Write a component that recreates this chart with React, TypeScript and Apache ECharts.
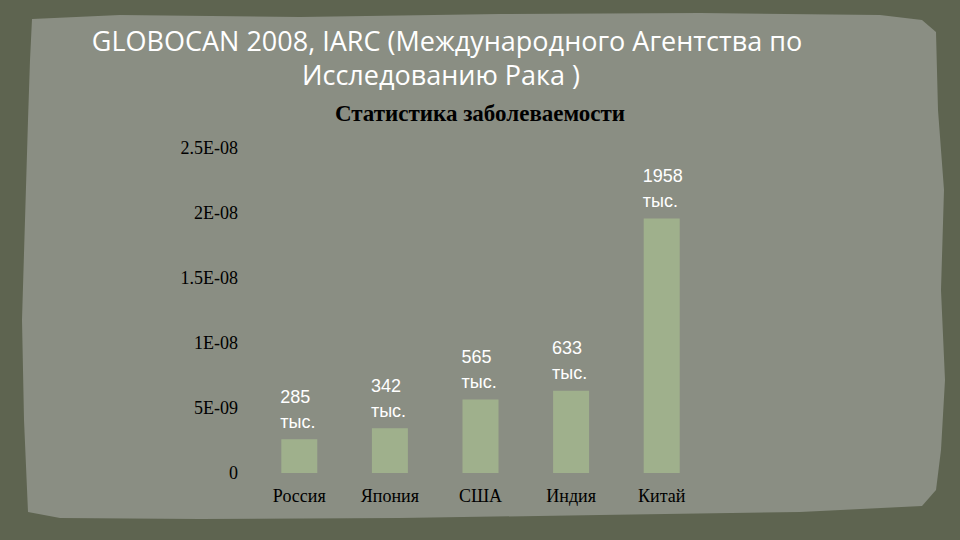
import React, { useEffect, useRef } from "react";
import * as echarts from "echarts";

const titleLines = ["GLOBOCAN 2008, IARC (Международного Агентства по", "Исследованию Рака )"];
const subtitle = "Статистика заболеваемости";
const categories = ["Россия", "Япония", "США", "Индия", "Китай"];
const values = [2.6e-9, 3.45e-9, 5.65e-9, 6.33e-9, 1.958e-8];
const dataLabels = ["285\nтыс.", "342\nтыс.", "565\nтыс.", "633\nтыс.", "1958\nтыс."];
const yTickLabels = ["0", "5E-09", "1E-08", "1.5E-08", "2E-08", "2.5E-08"];

const paperPoints: number[][] = [
  [32, 19], [120, 15], [300, 17], [500, 14], [700, 13], [880, 15], [922, 20], [936, 32],
  [938, 110], [944, 190], [941, 290], [945, 380], [941, 450], [936, 490], [922, 506],
  [800, 512], [600, 515], [400, 518], [200, 519], [60, 518], [28, 512],
  [24, 420], [22, 320], [25, 220], [28, 120], [30, 60],
];

export default function App() {
  const ref = useRef<HTMLDivElement>(null);
  useEffect(() => {
    if (!ref.current) return;
    const chart = echarts.init(ref.current, null, { renderer: "svg" });
    chart.setOption({
      animation: false,
      backgroundColor: "#5e6450",
      graphic: [
        {
          type: "polygon",
          z: -10,
          shape: { points: paperPoints },
          style: { fill: "#8a8e83" },
          silent: true,
        },
        {
          type: "text",
          x: 447,
          y: 40,
          style: {
            text: titleLines[0],
            fill: "#ffffff",
            font: "27px 'Open Sans'",
            align: "center",
            verticalAlign: "middle",
          },
        },
        {
          type: "text",
          x: 441,
          y: 74,
          style: {
            text: titleLines[1],
            fill: "#ffffff",
            font: "27px 'Open Sans'",
            align: "center",
            verticalAlign: "middle",
          },
        },
        {
          type: "text",
          x: 480,
          y: 113,
          style: {
            text: subtitle,
            fill: "#000000",
            font: "bold 23px 'Liberation Serif'",
            align: "center",
            verticalAlign: "middle",
          },
        },
      ],
      grid: { left: 254, right: 253, top: 148, bottom: 67 },
      xAxis: {
        type: "category",
        data: categories,
        axisLine: { show: false },
        axisTick: { show: false },
        axisLabel: {
          color: "#000000",
          fontFamily: "Liberation Serif",
          fontSize: 18,
          margin: 14,
        },
      },
      yAxis: {
        type: "value",
        min: 0,
        max: 2.5e-8,
        interval: 5e-9,
        splitLine: { show: false },
        axisLine: { show: false },
        axisTick: { show: false },
        axisLabel: {
          color: "#000000",
          fontFamily: "Liberation Serif",
          fontSize: 18,
          margin: 16,
          formatter: (v: number, i: number) => yTickLabels[i] ?? String(v),
        },
      },
      series: [
        {
          type: "bar",
          data: values,
          barWidth: 36,
          itemStyle: { color: "#9fb08c" },
          label: {
            show: true,
            position: "top",
            distance: 5,
            align: "left",
            offset: [-19, 0],
            color: "#ffffff",
            fontFamily: "Liberation Sans",
            fontSize: 18,
            lineHeight: 25,
            formatter: (p: any) => dataLabels[p.dataIndex],
          },
        },
      ],
    });
    return () => chart.dispose();
  }, []);
  return (
    <div
      ref={ref}
      style={{ position: "fixed", left: 0, top: 0, width: 960, height: 540 }}
    />
  );
}
